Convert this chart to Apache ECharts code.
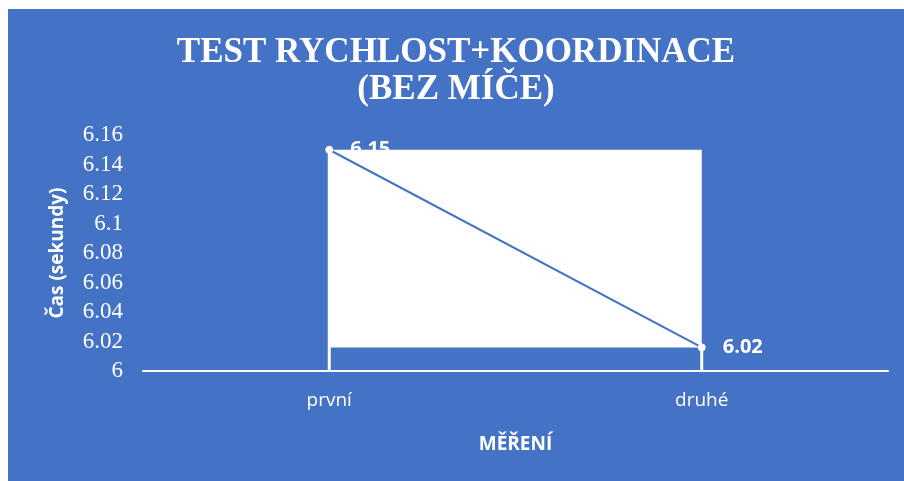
<!DOCTYPE html>
<html>
<head>
<meta charset="utf-8">
<script src="https://cdn.jsdelivr.net/npm/echarts@6/dist/echarts.min.js"></script>
<style>
  html, body { margin: 0; padding: 0; background: #ffffff; width: 904px; height: 481px; overflow: hidden; }
  #chart { position: absolute; left: 8px; top: 9px; width: 896px; height: 472px; }
</style>
</head>
<body>
<div id="chart"></div>
<script>
const titleText = 'TEST RYCHLOST+KOORDINACE\n(BEZ MÍČE)';
const categories = ['první', 'druhé'];
const values = [6.15, 6.016];
const yMin = 6, yMax = 6.16, yStep = 0.02;
const yAxisName = 'Čas (sekundy)';
const xAxisName = 'MĚŘENÍ';

const BLUE = '#4472C4';
const chart = echarts.init(document.getElementById('chart'));
chart.setOption({
  backgroundColor: BLUE,
  animation: false,
  title: {
    text: titleText,
    left: 'center',
    top: 20,
    textStyle: {
      color: '#ffffff',
      fontFamily: 'Liberation Serif',
      fontWeight: 'bold',
      fontSize: 35,
      lineHeight: 37
    }
  },
  grid: { left: 135, right: 16, top: 126, bottom: 110 },
  xAxis: {
    type: 'category',
    data: categories,
    boundaryGap: true,
    name: xAxisName,
    nameLocation: 'middle',
    nameGap: 64,
    nameTextStyle: { color: '#ffffff', fontFamily: 'Open Sans', fontWeight: 'bold', fontSize: 19 },
    axisLine: { show: true, lineStyle: { color: '#ffffff', width: 2 } },
    axisTick: { show: false },
    axisLabel: { color: '#ffffff', fontFamily: 'Open Sans', fontSize: 19, margin: 20 },
    splitLine: { show: false }
  },
  yAxis: {
    type: 'value',
    min: yMin,
    max: yMax,
    interval: yStep,
    name: yAxisName,
    nameLocation: 'middle',
    nameRotate: 90,
    nameGap: 76,
    nameTextStyle: { color: '#ffffff', fontFamily: 'Open Sans', fontWeight: 'bold', fontSize: 19 },
    axisLine: { show: false },
    axisTick: { show: false },
    splitLine: { show: false },
    axisLabel: {
      color: '#ffffff',
      fontFamily: 'Liberation Serif',
      fontSize: 23,
      margin: 20,
      formatter: v => String(parseFloat(v.toFixed(2)))
    }
  },
  series: [
    {
      type: 'bar',
      data: values,
      barWidth: 3,
      itemStyle: { color: '#ffffff' },
      silent: true,
      z: 1
    },
    {
      type: 'line',
      data: values,
      z: 3,
      lineStyle: { color: BLUE, width: 2 },
      symbol: 'circle',
      symbolSize: 7,
      itemStyle: { color: '#ffffff', borderColor: '#ffffff' },
      label: {
        show: true,
        position: 'right',
        distance: 17,
        color: '#ffffff',
        fontFamily: 'Open Sans',
        fontWeight: 'bold',
        fontSize: 20,
        formatter: p => (Math.round(p.value * 100) / 100).toFixed(2)
      },
      markArea: {
        silent: true,
        itemStyle: { color: '#ffffff', opacity: 1 },
        data: [[
          { xAxis: categories[0], yAxis: values[0] },
          { xAxis: categories[1], yAxis: values[1] }
        ]]
      }
    }
  ]
});
</script>
</body>
</html>
